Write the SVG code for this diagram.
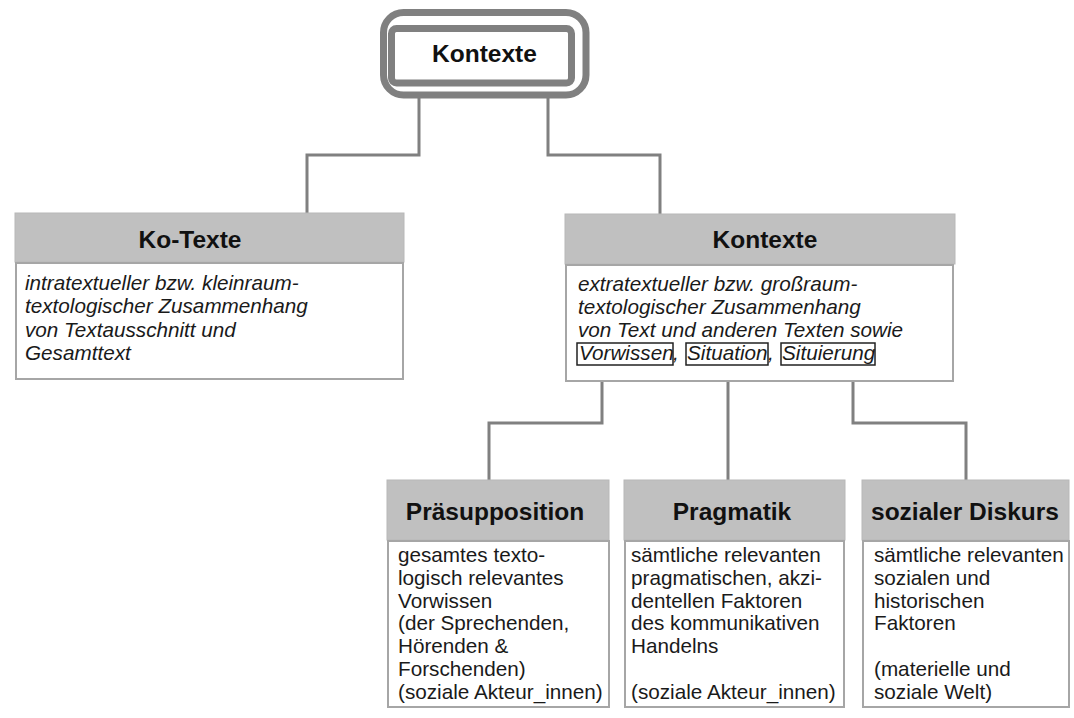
<svg xmlns="http://www.w3.org/2000/svg" width="1074" height="718" viewBox="0 0 1074 718">
<style>
.hdr{fill:#c0c0c0;stroke:#b8b8b8;stroke-width:1}
.body{fill:#fff;stroke:#a6a6a6;stroke-width:2}
.title{font-family:"Liberation Sans",Arial,sans-serif;font-weight:bold;font-size:24.5px;fill:#111;text-anchor:middle}
.it{font-family:"Liberation Sans",Arial,sans-serif;font-style:italic;font-size:20.7px;fill:#1a1a1a}
.tx{font-family:"Liberation Sans",Arial,sans-serif;font-size:20.7px;fill:#1a1a1a}
.conn{fill:none;stroke:#808080;stroke-width:3}
.wbox{fill:none;stroke:#222;stroke-width:1.5}
</style>
<rect width="1074" height="718" fill="#fff"/>
<g id="connectors">
<polyline class="conn" points="419,98 419,155 307,155 307,213"/>
<polyline class="conn" points="548,98 548,155 660,155 660,214"/>
<polyline class="conn" points="602,365 602,423 489,423 489,480"/>
<polyline class="conn" points="728,365 728,480"/>
<polyline class="conn" points="853,365 853,423 966,423 966,480"/>
</g>
<g id="root">
<rect x="383.5" y="12.5" width="202.5" height="82.5" rx="20" fill="#fff" stroke="#808080" stroke-width="7"/>
<rect x="391.5" y="28.5" width="180" height="54.5" rx="5" fill="#fff" stroke="#808080" stroke-width="7"/>
<text class="title" x="484.5" y="62">Kontexte</text>
</g>
<g id="ko-texte">
<rect class="hdr" x="15" y="213" width="389" height="49"/>
<rect class="body" x="16" y="263" width="387" height="116"/>
<text class="title" x="190" y="248">Ko-Texte</text>
<text class="it" x="25" y="290">intratextueller bzw. kleinraum-</text>
<text class="it" x="25" y="313">textologischer Zusammenhang</text>
<text class="it" x="25" y="337">von Textausschnitt und</text>
<text class="it" x="25" y="360">Gesamttext</text>
</g>
<g id="kontexte">
<rect class="hdr" x="565" y="214" width="390" height="50"/>
<rect class="body" x="566" y="265" width="387" height="116"/>
<text class="title" x="765" y="248">Kontexte</text>
<text class="it" x="578" y="291">extratextueller bzw. großraum-</text>
<text class="it" x="578" y="314">textologischer Zusammenhang</text>
<text class="it" x="578" y="337">von Text und anderen Texten sowie</text>
<text class="it" x="579" y="360">Vorwissen</text>
<text class="it" x="673" y="360">,</text>
<text class="it" x="687" y="360">Situation</text>
<text class="it" x="768" y="360">,</text>
<text class="it" x="782" y="360">Situierung</text>
<rect class="wbox" x="577" y="343" width="96" height="22"/>
<rect class="wbox" x="686" y="343" width="82" height="22"/>
<rect class="wbox" x="781" y="343" width="94" height="22"/>
</g>
<g id="praesupposition">
<rect class="hdr" x="387" y="480" width="222" height="60"/>
<rect class="body" x="388" y="541" width="221" height="166"/>
<text class="title" x="495" y="520">Präsupposition</text>
<text class="tx" x="398" y="562">gesamtes texto-</text>
<text class="tx" x="398" y="585">logisch relevantes</text>
<text class="tx" x="398" y="608">Vorwissen</text>
<text class="tx" x="398" y="630">(der Sprechenden,</text>
<text class="tx" x="398" y="653">Hörenden &amp;</text>
<text class="tx" x="398" y="676">Forschenden)</text>
<text class="tx" x="398" y="699">(soziale Akteur_innen)</text>
</g>
<g id="pragmatik">
<rect class="hdr" x="624" y="480" width="221" height="60"/>
<rect class="body" x="625" y="541" width="219" height="166"/>
<text class="title" x="732" y="520">Pragmatik</text>
<text class="tx" x="631" y="562">sämtliche relevanten</text>
<text class="tx" x="631" y="585">pragmatischen, akzi-</text>
<text class="tx" x="631" y="608">dentellen Faktoren</text>
<text class="tx" x="631" y="630">des kommunikativen</text>
<text class="tx" x="631" y="653">Handelns</text>
<text class="tx" x="631" y="699">(soziale Akteur_innen)</text>
</g>
<g id="sozialer-diskurs">
<rect class="hdr" x="862" y="480" width="207" height="60"/>
<rect class="body" x="863" y="541" width="206" height="166"/>
<text class="title" x="965" y="520">sozialer Diskurs</text>
<text class="tx" x="874" y="562">sämtliche relevanten</text>
<text class="tx" x="874" y="585">sozialen und</text>
<text class="tx" x="874" y="608">historischen</text>
<text class="tx" x="874" y="630">Faktoren</text>
<text class="tx" x="874" y="676">(materielle und</text>
<text class="tx" x="874" y="699">soziale Welt)</text>
</g>
</svg>
